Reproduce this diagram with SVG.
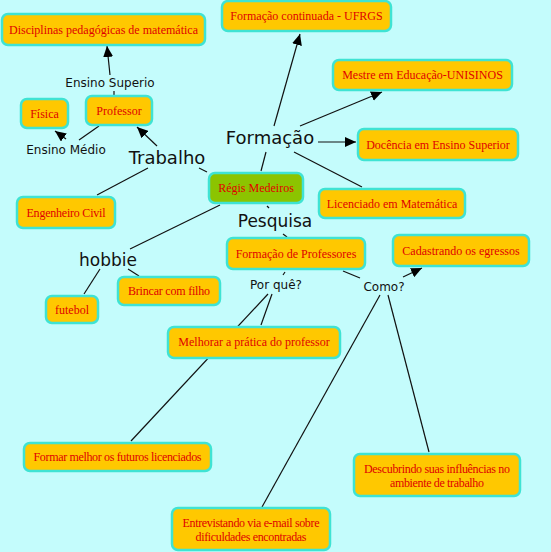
<svg xmlns="http://www.w3.org/2000/svg" width="551" height="552" viewBox="0 0 551 552">
<style>
.n rect{fill:#FFC800;stroke:#3FE3D3;stroke-width:2.5}
.n.root rect{fill:#8CC400}
.n text{font-family:"Liberation Serif",serif;font-size:12px;fill:#E00000;text-anchor:middle}
.lbl{font-family:"DejaVu Sans",sans-serif;fill:#111;text-anchor:middle}
.s{font-size:12px}
.b{font-size:18px}
.m{font-size:17px}
#connectors line{stroke:#111;stroke-width:1.2}
</style>
<defs>
<marker id="ah" markerUnits="userSpaceOnUse" markerWidth="12" markerHeight="10" refX="11" refY="5" orient="auto">
<path d="M0,0 L11,5 L0,10 Z" fill="#000"/>
</marker>
</defs>
<rect width="551" height="552" fill="#C4FCFC"/>
<g id="connectors">
<line x1="114" y1="95" x2="114" y2="91"/>
<line x1="110" y1="75" x2="107" y2="46" marker-end="url(#ah)"/>
<line x1="99" y1="126" x2="79" y2="140"/>
<line x1="66" y1="139" x2="55" y2="131" marker-end="url(#ah)"/>
<line x1="157" y1="146" x2="137" y2="127" marker-end="url(#ah)"/>
<line x1="199" y1="168" x2="207" y2="172"/>
<line x1="148" y1="168" x2="97" y2="195"/>
<line x1="261" y1="171" x2="266" y2="152"/>
<line x1="274" y1="126" x2="300" y2="34" marker-end="url(#ah)"/>
<line x1="300" y1="126" x2="382" y2="92" marker-end="url(#ah)"/>
<line x1="318" y1="142" x2="356" y2="142" marker-end="url(#ah)"/>
<line x1="294" y1="152" x2="362" y2="187"/>
<line x1="267" y1="206" x2="269" y2="208"/>
<line x1="220" y1="205" x2="130" y2="249"/>
<line x1="100" y1="269" x2="84" y2="294"/>
<line x1="128" y1="269" x2="139" y2="276"/>
<line x1="283" y1="234" x2="287" y2="237"/>
<line x1="285" y1="272" x2="283" y2="275"/>
<line x1="343" y1="271" x2="360" y2="278"/>
<line x1="403" y1="277" x2="422" y2="268" marker-end="url(#ah)"/>
<line x1="268" y1="294" x2="131" y2="441"/>
<line x1="272" y1="294" x2="261" y2="325"/>
<line x1="380" y1="295" x2="262" y2="507"/>
<line x1="388" y1="295" x2="429" y2="452"/>
</g>
<g id="labels">
<text class="lbl s" x="110" y="87">Ensino Superio</text>
<text class="lbl s" x="66" y="154">Ensino Médio</text>
<text class="lbl b" x="167" y="164">Trabalho</text>
<text class="lbl b" x="270" y="144">Formação</text>
<text class="lbl m" x="275" y="227">Pesquisa</text>
<text class="lbl m" x="108" y="266">hobbie</text>
<text class="lbl s" x="276" y="289">Por quê?</text>
<text class="lbl s" x="384" y="291">Como?</text>
</g>
<g id="disciplinas" class="n"><rect x="2" y="14" width="203" height="31" rx="6"/><text x="103.5" y="34">Disciplinas pedagógicas de matemática</text></g>
<g id="fisica" class="n"><rect x="21" y="99" width="47" height="29" rx="6"/><text x="44.5" y="118">Física</text></g>
<g id="professor" class="n"><rect x="86" y="96" width="66" height="29" rx="6"/><text x="119" y="115">Professor</text></g>
<g id="formacao-continuada" class="n"><rect x="222" y="1" width="169" height="30" rx="6"/><text x="306.5" y="20">Formação continuada - UFRGS</text></g>
<g id="mestre" class="n"><rect x="333" y="60" width="179" height="30" rx="6"/><text x="422.5" y="79">Mestre em Educação-UNISINOS</text></g>
<g id="docencia" class="n"><rect x="358" y="129" width="160" height="31" rx="6"/><text x="438" y="149">Docência em Ensino Superior</text></g>
<g id="regis" class="n root"><rect x="209" y="173" width="94" height="30" rx="6"/><text x="256" y="192">Régis Medeiros</text></g>
<g id="licenciado" class="n"><rect x="319" y="189" width="146" height="29" rx="6"/><text x="392" y="208">Licenciado em Matemática</text></g>
<g id="engenheiro" class="n"><rect x="17" y="197" width="98" height="31" rx="6"/><text x="66" y="217" textLength="79">Engenheiro Civil</text></g>
<g id="futebol" class="n"><rect x="46" y="296" width="52" height="27" rx="6"/><text x="72" y="314">futebol</text></g>
<g id="brincar" class="n"><rect x="118" y="277" width="102" height="28" rx="6"/><text x="169" y="295" textLength="82">Brincar com filho</text></g>
<g id="formacao-professores" class="n"><rect x="227" y="238" width="138" height="31" rx="6"/><text x="296" y="258">Formação de Professores</text></g>
<g id="cadastrando" class="n"><rect x="393" y="235" width="136" height="31" rx="6"/><text x="461" y="255">Cadastrando os egressos</text></g>
<g id="melhorar" class="n"><rect x="168" y="327" width="172" height="31" rx="6"/><text x="254" y="346">Melhorar a prática do professor</text></g>
<g id="formar" class="n"><rect x="24" y="443" width="187" height="28" rx="6"/><text x="117.5" y="461" textLength="168">Formar melhor os futuros licenciados</text></g>
<g id="descubrindo" class="n"><rect x="354" y="454" width="166" height="42" rx="6"/><text x="437" y="473" textLength="146">Descubrindo suas influências no</text><text x="437" y="487" textLength="94">ambiente de trabalho</text></g>
<g id="entrevistando" class="n"><rect x="172" y="508" width="158" height="42" rx="6"/><text x="251" y="527" textLength="137">Entrevistando via e-mail sobre</text><text x="251" y="541" textLength="111">dificuldades encontradas</text></g>
</svg>
